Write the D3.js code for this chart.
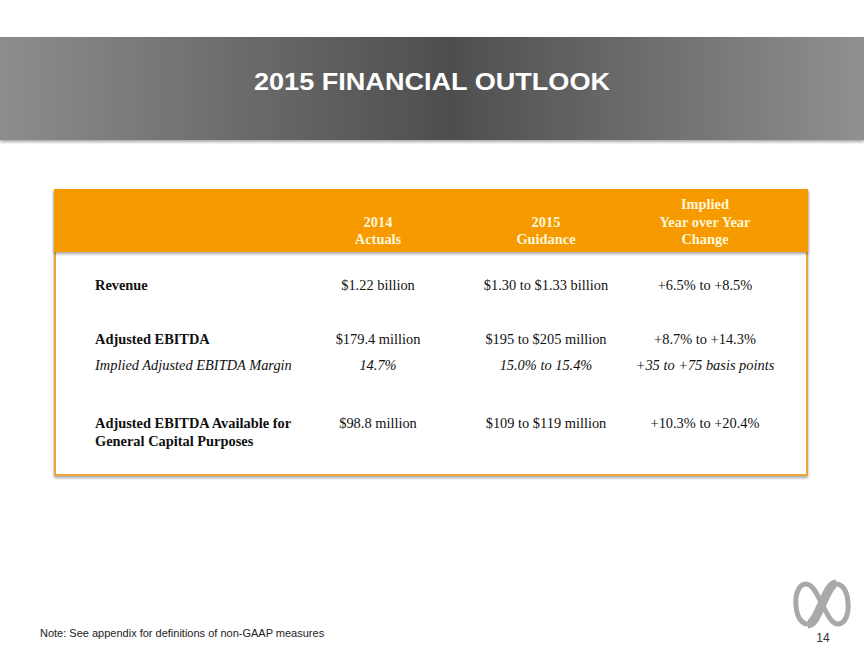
<!DOCTYPE html>
<meta charset="utf-8">
<style>
    body { margin: 0; background: #fff; }
    .hdr { fill: #fff6d8; font-family: "Liberation Serif", serif; font-weight: bold; font-size: 14.4px; }
    .cell { fill: #111; font-family: "Liberation Serif", serif; font-size: 14.4px; }
    .lbl { fill: #111; font-family: "Liberation Serif", serif; font-size: 14.4px; }
</style>
<body>
    <script src="https://d3js.org/d3.v7.min.js"></script>
    <script>
        var title = '2015 FINANCIAL OUTLOOK',
            columns = [['2014', 'Actuals'], ['2015', 'Guidance'], ['Implied', 'Year over Year', 'Change']],
            rowLabels = [['Revenue'], ['Adjusted EBITDA'], ['Implied Adjusted EBITDA Margin'],
                ['Adjusted EBITDA Available for', 'General Capital Purposes']],
            rowStyle = ['bold', 'bold', 'italic', 'bold'],
            actuals2014 = ['$1.22 billion', '$179.4 million', '14.7%', '$98.8 million'],
            guidance2015 = ['$1.30 to $1.33 billion', '$195 to $205 million', '15.0% to 15.4%', '$109 to $119 million'],
            yoyChange = ['+6.5% to +8.5%', '+8.7% to +14.3%', '+35 to +75 basis points', '+10.3% to +20.4%'],
            note = 'Note: See appendix for definitions of non-GAAP measures',
            pageNum = '14';

        var W = 864, H = 648;
        var svg = d3.select('body').append('svg')
            .attr('width', W)
            .attr('height', H);

        var defs = svg.append('defs');
        var grad = defs.append('linearGradient').attr('id', 'band');
        grad.append('stop').attr('offset', '0%').attr('stop-color', '#8d8d8d');
        grad.append('stop').attr('offset', '52%').attr('stop-color', '#4e4e4e');
        grad.append('stop').attr('offset', '100%').attr('stop-color', '#909090');
        var sh = defs.append('filter').attr('id', 'shadow')
            .attr('x', '-5%').attr('y', '-5%').attr('width', '110%').attr('height', '120%');
        sh.append('feDropShadow').attr('dx', 0).attr('dy', 2).attr('stdDeviation', 1.5)
            .attr('flood-color', '#000').attr('flood-opacity', 0.35);

        // title band
        svg.append('rect')
            .attr('x', 0).attr('y', 37).attr('width', W).attr('height', 103)
            .attr('fill', 'url(#band)')
            .attr('filter', 'url(#shadow)');
        svg.append('text')
            .attr('x', 254).attr('y', 90)
            .attr('fill', '#fff')
            .attr('textLength', 356)
            .attr('lengthAdjust', 'spacingAndGlyphs')
            .style('font-family', '"Liberation Sans", Arial, sans-serif')
            .style('font-weight', 'bold')
            .style('font-size', '24px')
            .text(title);

        // table frame
        var tx = 55, tw = 752, ty = 190, th = 285, hh = 62;
        svg.append('rect')
            .attr('x', tx).attr('y', ty).attr('width', tw).attr('height', th)
            .attr('fill', '#fff')
            .attr('stroke', '#eda53a').attr('stroke-width', 2)
            .attr('filter', 'url(#shadow)');
        svg.append('rect')
            .attr('x', tx - 1).attr('y', ty - 1).attr('width', tw + 2).attr('height', hh + 1)
            .attr('fill', '#f69a00')
            .attr('filter', 'url(#shadow)');

        var colX = d3.scaleOrdinal()
            .domain(d3.range(columns.length))
            .range([378, 546, 705]);

        // header
        var lineH = 17.5, hdrBottom = 244;
        columns.forEach(function(lines, i) {
            var t = svg.append('text').attr('class', 'hdr').attr('text-anchor', 'middle');
            lines.forEach(function(s, k) {
                t.append('tspan')
                    .attr('x', colX(i))
                    .attr('y', hdrBottom - (lines.length - 1 - k) * lineH)
                    .text(s);
            });
        });

        // rows
        var rowY = d3.scaleOrdinal()
            .domain(d3.range(rowLabels.length))
            .range([290, 344, 370, 428]);
        var series = [actuals2014, guidance2015, yoyChange];

        rowLabels.forEach(function(lines, r) {
            var t = svg.append('text').attr('class', 'lbl')
                .style('font-weight', rowStyle[r] === 'bold' ? 'bold' : 'normal')
                .style('font-style', rowStyle[r] === 'italic' ? 'italic' : 'normal');
            lines.forEach(function(s, k) {
                t.append('tspan').attr('x', 95).attr('y', rowY(r) + k * 18).text(s);
            });
        });

        series.forEach(function(vals, c) {
            svg.selectAll(null)
                .data(vals).enter()
                .append('text')
                .attr('class', 'cell')
                .attr('text-anchor', 'middle')
                .attr('x', colX(c))
                .attr('y', function(d, r) { return rowY(r); })
                .style('font-style', function(d, r) { return rowStyle[r] === 'italic' ? 'italic' : 'normal'; })
                .text(function(d) { return d; });
        });

        // footer note
        svg.append('text')
            .attr('x', 40).attr('y', 637)
            .attr('fill', '#222')
            .style('font-family', '"Liberation Sans", Arial, sans-serif')
            .style('font-size', '11px')
            .text(note);

        // logo
        var logo = svg.append('g').attr('transform', 'translate(822,604)');
        logo.append('path')
            .attr('d', 'M0,0 C-6,-12 -10,-20 -16,-20 C-24,-20 -27,-8 -26,2 C-25,14 -20,20 -14,20 C-8,20 -4,8 0,0 ' +
                'C4,-8 8,-20 14,-20 C20,-20 25,-14 26,-2 C27,8 24,20 16,20 C10,20 6,12 0,0 Z')
            .attr('fill', 'none')
            .attr('stroke', '#a9a9a9')
            .attr('stroke-width', 5)
            .attr('stroke-linejoin', 'round');
        logo.append('path')
            .attr('d', 'M-14,20 C-8,20 -4,8 0,0 C4,-8 8,-20 14,-20')
            .attr('fill', 'none')
            .attr('stroke', '#a9a9a9')
            .attr('stroke-width', 9);
        svg.append('text')
            .attr('x', 823).attr('y', 642)
            .attr('text-anchor', 'middle')
            .attr('fill', '#333')
            .style('font-family', '"Liberation Sans", Arial, sans-serif')
            .style('font-size', '12px')
            .text(pageNum);
    </script>
</body>
